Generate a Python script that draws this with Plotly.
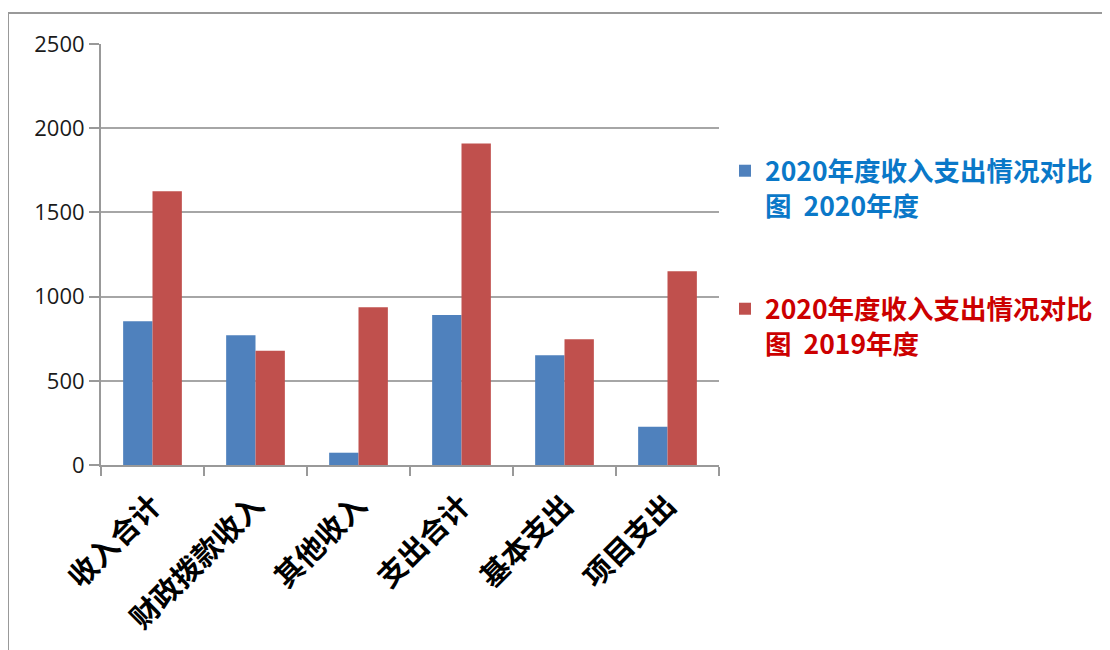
import plotly.graph_objects as go

categories = ["收入合计", "财政拨款收入", "其他收入", "支出合计", "基本支出", "项目支出"]
values_2020 = [854, 771, 73, 891, 652, 227]
values_2019 = [1625, 678, 937, 1909, 747, 1150]
series_names = ["2020年度收入支出情况对比<br>图  2020年度", "2020年度收入支出情况对比<br>图  2019年度"]
y_ticks = [0, 500, 1000, 1500, 2000, 2500]

W, H = 1110, 650
L, R, T, B = 93, 711, 36, 457

fig = go.Figure()
fig.add_trace(go.Bar(x=categories, y=values_2020, name=series_names[0], showlegend=True,
                     marker=dict(color="#4F81BD", line=dict(width=0)), legend="legend"))
fig.add_trace(go.Bar(x=categories, y=values_2019, name=series_names[1], showlegend=True,
                     marker=dict(color="#C0504D", line=dict(width=0)), legend="legend2"))

def px_x(p):
    return (p - L) / (R - L)

def px_y(p):
    return (B - p) / (B - T)

fig.update_layout(
    width=W, height=H,
    showlegend=True,
    margin=dict(l=L, r=W - R, t=T, b=H - B, pad=0),
    paper_bgcolor="white", plot_bgcolor="white",
    barmode="group", bargap=0.43, bargroupgap=0,
    font=dict(family="Noto Sans CJK SC", size=16, color="#222"),
    xaxis=dict(
        type="category",
        tickangle=-45,
        tickfont=dict(family="Noto Sans CJK SC", size=29, color="black", weight="bold"),
        ticklabelstandoff=10,
        showline=True, linecolor="#999", linewidth=2,
        ticks="outside", tickson="boundaries", ticklen=9, tickcolor="#999", tickwidth=2,
        showgrid=False,
    ),
    yaxis=dict(
        range=[0, 2500], tickvals=y_ticks,
        tickfont=dict(family="Open Sans", size=22, color="#1a1a1a"),
        showline=True, linecolor="#999", linewidth=2,
        ticks="outside", ticklen=10, tickcolor="#999", tickwidth=2,
        showgrid=True, gridcolor="#A6A6A6", gridwidth=2,
        zeroline=False,
    ),
    legend=dict(
        xref="paper", yref="paper", x=px_x(717), y=px_y(139),
        xanchor="left", yanchor="top", valign="top", visible=True,
        font=dict(family="Noto Sans CJK SC", size=26.5, color="#0A78C8", weight="bold"),
        bgcolor="rgba(0,0,0,0)",
    ),
    legend2=dict(
        xref="paper", yref="paper", x=px_x(717), y=px_y(277),
        xanchor="left", yanchor="top", valign="top", visible=True,
        font=dict(family="Noto Sans CJK SC", size=26.5, color="#CC0000", weight="bold"),
        bgcolor="rgba(0,0,0,0)",
    ),
    shapes=[dict(type="rect", xref="paper", yref="paper",
                 x0=px_x(0), x1=px_x(1130), y0=px_y(660), y1=px_y(5),
                 line=dict(color="#999", width=2), fillcolor="rgba(0,0,0,0)", layer="below")],
)

fig.write_html("out.html")
